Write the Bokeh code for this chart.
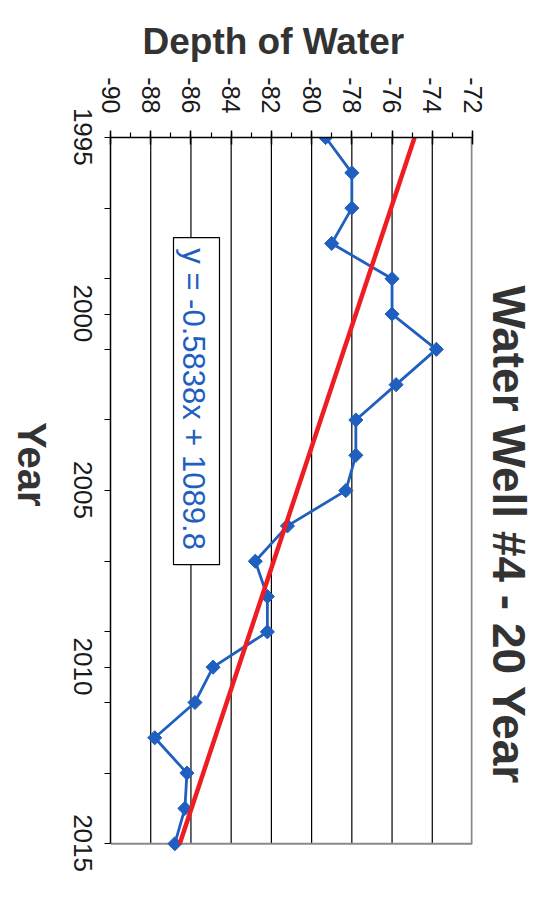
import math
from bokeh.plotting import figure
from bokeh.models import (Range1d, SingleIntervalTicker, FixedTicker, Label,
                          BoxAnnotation, LinearAxis, Title)
from bokeh.embed import file_html
from bokeh.resources import INLINE

# ---------------- data ----------------
years = [1995, 1996, 1997, 1998, 1999, 2000, 2001, 2002, 2003, 2004, 2005,
         2006, 2007, 2008, 2009, 2010, 2011, 2012, 2013, 2014, 2015]
depth = [-79.3, -78.0, -78.0, -79.0, -76.0, -76.0, -73.8, -75.8, -77.8, -77.8, -78.3,
         -81.2, -82.8, -82.2, -82.2, -84.9, -85.8, -87.8, -86.2, -86.3, -86.8]
trend_slope = -0.5838
trend_intercept = 1089.8
depth_ticks = [-90, -88, -86, -84, -82, -80, -78, -76, -74, -72]
grid_ticks = [-88, -86, -84, -82, -80, -78, -76, -74]
year_ticks = [1995, 2000, 2005, 2010, 2015]
year_minor_ticks = [1997, 1999, 2001, 2003, 2005, 2007, 2009, 2011, 2013]

title_text = "Water Well #4 - 20 Year"
value_axis_title = "Depth of Water"
year_axis_title = "Year"

# ---------------- layout ----------------
SHIFT_L = 40                         # canvas starts this far left of the page
SHIFT_T = 20                         # ... and this far above it
PAGE_W, PAGE_H = 558, 902
W, H = PAGE_W + SHIFT_L, PAGE_H + SHIFT_T
FL, FR, FT = 110, 472, 137           # frame left/right/top in page px
PX_PER_YEAR = 706 / 20
Y_EXT = 0.9                          # white space kept below the last year
X0, X1 = depth_ticks[0], depth_ticks[-1]
Y0, Y1 = year_ticks[0], year_ticks[-1]
FB = round(FT + (Y1 + Y_EXT - Y0) * PX_PER_YEAR)

def dx(px):
    return X0 + (px - FL) * (X1 - X0) / (FR - FL)

def dy(py):
    return Y0 + (py - FT) / PX_PER_YEAR

FONT = "Liberation Sans"
BLUE = "#1f5fbf"
RED = "#ee1d23"
DARK = "#333333"
FRAME_GRAY = "#8a8a8a"

p = figure(width=W, height=H, output_backend="svg", toolbar_location=None, tools="",
           x_range=Range1d(X0, X1), y_range=Range1d(Y1 + Y_EXT, Y0),
           x_axis_location="above",
           min_border_left=FL + SHIFT_L, min_border_right=PAGE_W - FR,
           min_border_top=FT + SHIFT_T, min_border_bottom=PAGE_H - FB)
p.styles = {"margin-left": f"-{SHIFT_L}px", "margin-top": f"-{SHIFT_T}px"}
p.background_fill_color = "white"
p.border_fill_color = "white"
p.outline_line_color = None
p.xgrid.visible = False
p.ygrid.visible = False

# title "Depth of Water" (above the value axis)
p.title.text = value_axis_title
p.title.align = "left"
p.title.offset = 32
p.title.standoff = 26
p.title.text_font = FONT
p.title.text_font_size = "37px"
p.title.text_font_style = "bold"
p.title.text_color = DARK

# value axis (top)
xa = p.xaxis[0]
xa.ticker = SingleIntervalTicker(interval=2, num_minor_ticks=2)
xa.major_label_overrides = {t: str(t) for t in depth_ticks}
xa.major_label_orientation = -math.pi / 2
xa.major_label_text_font = FONT
xa.major_label_text_font_size = "25px"
xa.major_label_text_color = "#1a1a1a"
xa.major_label_standoff = 17
xa.major_tick_out = 7
xa.major_tick_in = 7
xa.minor_tick_out = 5
xa.minor_tick_in = 0
xa.axis_line_color = "black"
xa.axis_line_width = 1.5
xa.major_tick_line_color = "black"
xa.major_tick_line_width = 1.5
xa.minor_tick_line_color = "black"
xa.minor_tick_line_width = 1.2

# year axis: line + tick marks
ya = p.yaxis[0]
ya.ticker = FixedTicker(ticks=[], minor_ticks=sorted(set(year_ticks + year_minor_ticks)))
ya.bounds = (Y0, Y1)
ya.major_label_standoff = 0
ya.major_tick_out = 0
ya.major_tick_in = 0
ya.minor_tick_out = 6
ya.minor_tick_in = 0
ya.axis_line_color = "black"
ya.axis_line_width = 1.5
ya.minor_tick_line_color = "black"
ya.minor_tick_line_width = 1.2

# year axis: labels, centred on their ticks (label end placed half a label below)
LABEL_SHIFT = 0.8
label_pos = [t + LABEL_SHIFT for t in year_ticks]
yl = LinearAxis(ticker=FixedTicker(ticks=label_pos),
                major_label_overrides={pos: str(t) for pos, t in zip(label_pos, year_ticks)})
yl.axis_line_color = None
yl.major_tick_line_color = None
yl.minor_tick_line_color = None
yl.major_tick_out = 0
yl.major_tick_in = 0
yl.minor_tick_out = 0
yl.minor_tick_in = 0
yl.major_label_orientation = -math.pi / 2
yl.major_label_text_font = FONT
yl.major_label_text_font_size = "26px"
yl.major_label_text_color = "#1a1a1a"
yl.major_label_standoff = 22
yl.axis_label = year_axis_title
yl.axis_label_text_font = FONT
yl.axis_label_text_font_size = "40px"
yl.axis_label_text_font_style = "bold"
yl.axis_label_text_color = DARK
yl.axis_label_standoff = 30
if "axis_label_orientation" in yl.properties():
    yl.axis_label_orientation = -math.pi / 2
p.add_layout(yl, "left")

# chart title (right side, reading downwards)
p.add_layout(Title(text=title_text, align="left", offset=148, standoff=20,
                   vertical_align="bottom", text_font=FONT, text_font_size="46px",
                   text_font_style="bold", text_color=DARK), "right")

# vertical grid lines and plot-area border (right and bottom)
p.segment(x0=grid_ticks, y0=[Y0] * len(grid_ticks), x1=grid_ticks, y1=[Y1] * len(grid_ticks),
          line_color="black", line_width=1.2)
p.line([X1, X1], [Y0, Y1], line_color=FRAME_GRAY, line_width=3.5)
p.line([X0, X1], [Y1, Y1], line_color=FRAME_GRAY, line_width=2)

# series
p.line(depth, years, line_color=BLUE, line_width=2.8)
p.scatter(depth, years, marker="square", angle=math.pi / 4, size=10,
          fill_color=BLUE, line_color=BLUE)

trend_years = [years[0], years[-1]]
trend_depth = [trend_slope * y + trend_intercept for y in trend_years]
p.line(trend_depth, trend_years, line_color=RED, line_width=4.5)

# equation box + text
box = BoxAnnotation(left=dx(173), right=dx(219), top=dy(237), bottom=dy(564),
                    fill_color="white", fill_alpha=1.0, line_color="black",
                    line_width=1.2, line_alpha=1.0)
p.add_layout(box)
eq_text = f"y = {trend_slope}x + {trend_intercept}"
p.add_layout(Label(x=dx(193), y=dy(398.5), text=eq_text, angle=-math.pi / 2,
                   text_align="center", text_baseline="middle",
                   text_font=FONT, text_font_size="31px", text_color=BLUE))

open("out.html", "w").write(file_html(p, INLINE))
